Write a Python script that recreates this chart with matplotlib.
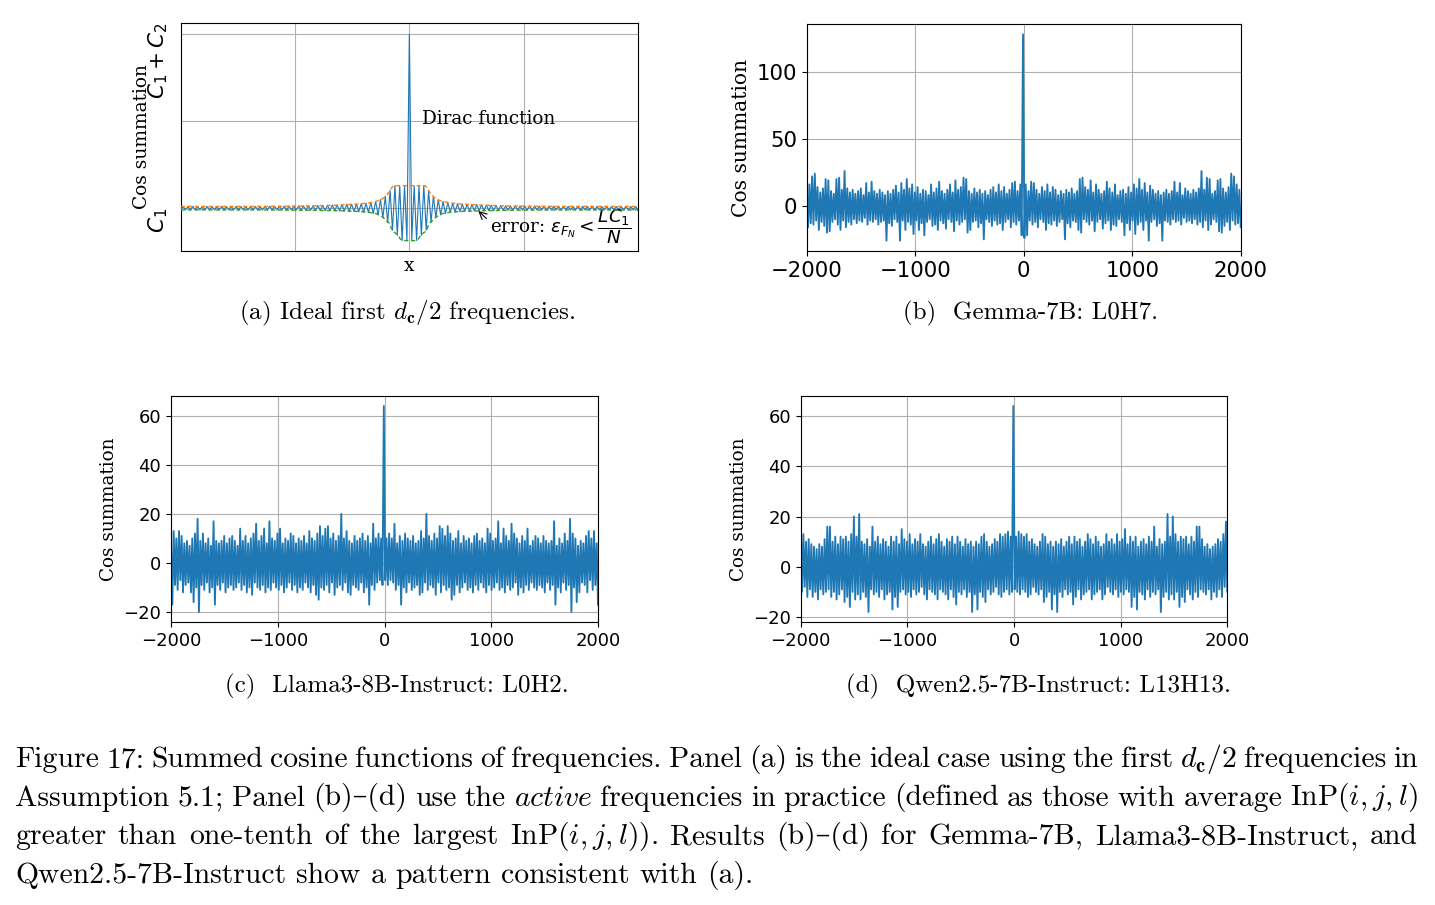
import numpy as np
import matplotlib.pyplot as plt

# ---- panel (a): ideal cos summation, C1 -> 0, C1 + C2 -> 1 ----
# extremes of the summed curve, read from x = 0 outwards (curve is even)
ideal_half = [1.0, -0.19, 0.127, -0.19, 0.127, -0.16, 0.127, -0.13, 0.10, -0.085,
              0.066, -0.058, 0.047, -0.042, 0.036, -0.034, 0.030, -0.029, 0.026, -0.026,
              0.023, -0.024, 0.021, -0.022, 0.020, -0.021, 0.019, -0.020, 0.018, -0.019,
              0.016, -0.018, 0.015, -0.017, 0.014, -0.017, 0.013, -0.016, 0.012, -0.016,
              0.011, -0.015, 0.010, -0.015, 0.010, -0.014, 0.009, -0.014, 0.009, -0.014,
              0.009, -0.014, 0.008, -0.013, 0.008, -0.013, 0.008, -0.013, 0.008, -0.013,
              0.008, -0.013, 0.007, -0.013, 0.007, -0.013, 0.007, -0.013, 0.007, -0.013,
              0.007, -0.013, 0.007, -0.013, 0.007, -0.013, 0.007, -0.013, 0.007, -0.013,
              0.007, -0.013, 0.007, -0.013, 0.007, -0.013, 0.007, -0.013, 0.007, -0.013,
              0.007, -0.013, 0.007, -0.013, 0.007, -0.013]
# error envelopes, left half (x from -2 to 0)
upper_env_x = [-2.0, -1.3, -0.87, -0.61, -0.44, -0.35, -0.30, -0.26, -0.23, -0.21, -0.175, -0.157, -0.14, 0.0]
upper_env_y = [0.007, 0.007, 0.010, 0.015, 0.021, 0.028, 0.035, 0.042, 0.054, 0.063, 0.092, 0.112, 0.127, 0.127]
lower_env_x = [-2.0, -1.3, -0.87, -0.61, -0.44, -0.35, -0.29, -0.23, -0.21, -0.175, -0.157, -0.14, -0.10, -0.08, -0.05, 0.0]
lower_env_y = [-0.013, -0.013, -0.015, -0.018, -0.022, -0.027, -0.034, -0.055, -0.071, -0.09, -0.12, -0.138, -0.157, -0.18, -0.19, -0.19]

# ---- panels (b)-(d): per-bin highs / lows, x = -2000 .. 0 in steps of 25 (curves are even) ----
gemma_hi = [12, 16, 22, 24, 14, 10, 13, 20, 19, 11, 9, 20, 21, 12, 26, 13, 10, 12, 9, 11,
            13, 8, 17, 10, 18, 11, 9, 12, 10, 8, 11, 9, 12, 15, 10, 17, 12, 20, 13, 16,
            10, 14, 9, 12, 11, 8, 16, 10, 13, 18, 11, 9, 12, 16, 10, 19, 12, 14, 21, 20,
            11, 9, 13, 10, 12, 9, 11, 8, 12, 14, 10, 16, 11, 14, 9, 12, 17, 18, 11, 16, 128]
gemma_lo = [-16, -13, -14, -11, -18, -12, -15, -20, -19, -12, -10, -14, -18, -11, -16, -12, -14, -10, -13, -11,
            -12, -9, -14, -11, -12, -10, -14, -12, -11, -26, -13, -15, -10, -12, -26, -11, -18, -12, -14, -21,
            -11, -18, -13, -22, -12, -10, -15, -14, -18, -11, -13, -17, -10, -12, -19, -11, -14, -12, -10, -20,
            -18, -12, -11, -16, -13, -25, -10, -12, -15, -11, -14, -13, -18, -12, -10, -16, -12, -14, -11, -22, -24]

llama_hi = [8, 13, 10, 13, 11, 8, 9, 7, 10, 12, 18, 9, 12, 8, 10, 7, 17, 9, 8, 9,
            11, 8, 10, 11, 9, 7, 14, 9, 11, 8, 10, 12, 16, 9, 11, 14, 8, 17, 10, 9,
            12, 14, 8, 10, 9, 12, 11, 8, 10, 9, 11, 8, 13, 10, 9, 12, 15, 11, 14, 15,
            10, 12, 9, 11, 20, 10, 13, 9, 8, 11, 9, 10, 12, 9, 11, 8, 16, 10, 12, 10, 64]
llama_lo = [-17, -9, -11, -7, -12, -9, -8, -12, -16, -10, -20, -9, -11, -8, -12, -10, -17, -9, -11, -8,
            -12, -10, -9, -11, -10, -8, -11, -9, -12, -10, -13, -8, -10, -11, -9, -12, -10, -11, -8, -10,
            -11, -9, -12, -10, -8, -11, -9, -12, -10, -11, -8, -10, -12, -9, -13, -15, -10, -11, -9, -12,
            -8, -13, -10, -9, -11, -8, -12, -13, -9, -10, -11, -8, -12, -10, -17, -9, -11, -8, -7, -9, -7]

qwen_hi = [18, 13, 10, 11, 9, 8, 7, 9, 8, 11, 16, 16, 10, 12, 9, 12, 11, 12, 10, 13,
           20, 12, 21, 10, 9, 11, 8, 16, 10, 12, 9, 11, 10, 8, 12, 10, 12, 9, 15, 11,
           10, 13, 9, 11, 10, 13, 9, 8, 10, 12, 9, 11, 13, 10, 8, 11, 10, 12, 9, 12,
           10, 8, 11, 9, 10, 8, 10, 9, 12, 13, 10, 8, 9, 11, 10, 13, 12, 13, 14, 12, 64]
qwen_lo = [-10, -8, -12, -9, -12, -10, -13, -9, -11, -10, -9, -12, -10, -13, -11, -9, -14, -12, -16, -10,
           -13, -11, -13, -10, -12, -18, -9, -11, -10, -12, -9, -13, -11, -10, -17, -12, -16, -10, -9, -11,
           -10, -12, -9, -11, -10, -8, -11, -13, -9, -10, -11, -13, -9, -10, -11, -13, -9, -12, -15, -10,
           -11, -9, -12, -10, -18, -11, -17, -10, -12, -14, -9, -11, -10, -8, -11, -12, -10, -9, -11, -10, -9]

subcaptions = ["(a) Ideal first $d_{\\mathbf{c}}/2$ frequencies.",
               "(b)  Gemma-7B: L0H7.",
               "(c)  Llama3-8B-Instruct: L0H2.",
               "(d)  Qwen2.5-7B-Instruct: L13H13."]
caption_lines = [
    "Figure 17: Summed cosine functions of frequencies. Panel (a) is the ideal case using the first $d_{\\mathbf{c}}/2$ frequencies in",
    "Assumption 5.1; Panel (b)\u2013(d) use the $\\mathit{active}$ frequencies in practice (defined as those with average $\\mathrm{InP}(i,j,l)$",
    "greater than one-tenth of the largest $\\mathrm{InP}(i,j,l)$). Results (b)\u2013(d) for Gemma-7B, Llama3-8B-Instruct, and",
    "Qwen2.5-7B-Instruct show a pattern consistent with (a).",
]

W, H = 1435, 905
BLUE, ORANGE, GREEN = "#1f77b4", "#ff7f0e", "#2ca02c"
SERIF = "DejaVu Serif"
CM = ["cmr10", "DejaVu Serif"]

fig = plt.figure(figsize=(W / 100, H / 100), dpi=100)


def rect(x0, y0, x1, y1):
    return [x0 / W, 1 - y1 / H, (x1 - x0) / W, (y1 - y0) / H]


# ---------- (a) ----------
ax = fig.add_axes(rect(180.7, 23, 638, 251))
full = ideal_half[::-1] + ideal_half[1:]
xs = np.linspace(-2, 2, len(full))
ax.plot(xs, full, color=BLUE, lw=0.8, zorder=3)
ux = upper_env_x + [-v for v in upper_env_x[-2::-1]]
uy = upper_env_y + upper_env_y[-2::-1]
lx = lower_env_x + [-v for v in lower_env_x[-2::-1]]
ly = lower_env_y + lower_env_y[-2::-1]
ax.plot(ux, uy, "--", color=ORANGE, lw=1.0, dashes=(3, 2), zorder=4)
ax.plot(lx, ly, "--", color=GREEN, lw=1.0, dashes=(3, 2), zorder=4)
ax.set_xlim(-2, 2)
ax.set_ylim(-0.25, 1.065)
ax.set_xticks([-1, 0, 1])
ax.set_xticklabels([])
ax.set_yticks([0, 0.5, 1])
ax.set_yticklabels([])
ax.tick_params(length=0)
ax.grid(True)
ax.text(-0.0234, 0.833, "$C_1 + C_2$", transform=ax.transAxes, rotation=90,
        ha="right", va="center", fontsize=15.5)
ax.text(-0.0234, 0.136, "$C_1$", transform=ax.transAxes, rotation=90,
        ha="right", va="center", fontsize=15.5)
ax.set_ylabel("Cos summation", family=SERIF, fontsize=13.4)
ax.yaxis.set_label_coords(-0.066, 0.5)
ax.set_xlabel("x", family=SERIF, fontsize=13.4, labelpad=1)
ax.text(0.111, 0.511, "Dirac function", family=SERIF, fontsize=13.2, ha="left", va="center")
ax.annotate("error: $\\varepsilon_{F_N} < \\dfrac{LC_1}{N}$", xy=(0.603, -0.019), xytext=(0.708, -0.11),
            family=SERIF, fontsize=13.2, ha="left", va="center",
            arrowprops=dict(arrowstyle="->", color="black", lw=0.8, relpos=(0, 0.62), shrinkA=1, shrinkB=0))


# ---------- (b)-(d) ----------
def noise_panel(r, hi_half, lo_half, ticksize, labelsize):
    a = fig.add_axes(r)
    hi = hi_half + hi_half[-2::-1]
    lo = lo_half + lo_half[-2::-1]
    y = np.column_stack([hi, lo]).ravel()
    x = np.linspace(-2000, 2000, len(y))
    a.plot(x, y, color=BLUE, lw=1.35)
    a.set_xlim(-2000, 2000)
    a.margins(y=0.05)
    a.grid(True)
    a.tick_params(labelsize=ticksize)
    a.set_ylabel("Cos summation", family=SERIF, fontsize=labelsize)
    return a


noise_panel(rect(806.7, 24, 1240.7, 251), gemma_hi, gemma_lo, 15.3, 14.6)
noise_panel(rect(171, 395.7, 598, 622.3), llama_hi, llama_lo, 13, 13.2)
noise_panel(rect(800.7, 395.7, 1227.3, 622.3), qwen_hi, qwen_lo, 13, 13.2)

# ---------- captions ----------
SUB = 18
sub_pos = [(407, 319), (1031, 319), (397, 692), (1039, 692)]
for txt, (cx, cy) in zip(subcaptions, sub_pos):
    fig.text(cx / W, 1 - cy / H, txt, family=CM, math_fontfamily="cm", fontsize=SUB,
             ha="center", va="baseline")

CAP = 21.4
renderer = fig.canvas.get_renderer()
line_y = [767, 805.5, 844, 882.5]
x0, x1 = 15, 1418
space = 0.333 * CAP * 100 / 72
for i, (line, ly_) in enumerate(zip(caption_lines, line_y)):
    words = line.split(" ")
    ts = [fig.text(0, 1 - ly_ / H, w, family=CM, math_fontfamily="cm", fontsize=CAP,
                   ha="left", va="baseline") for w in words]
    ws = [t.get_window_extent(renderer).width for t in ts]
    if i < len(caption_lines) - 1:
        gap = (x1 - x0 - sum(ws)) / (len(ws) - 1)
    else:
        gap = space
    xp = x0
    for t, wd in zip(ts, ws):
        t.set_x(xp / W)
        xp += wd + gap

fig.savefig("out.png", dpi=100)
